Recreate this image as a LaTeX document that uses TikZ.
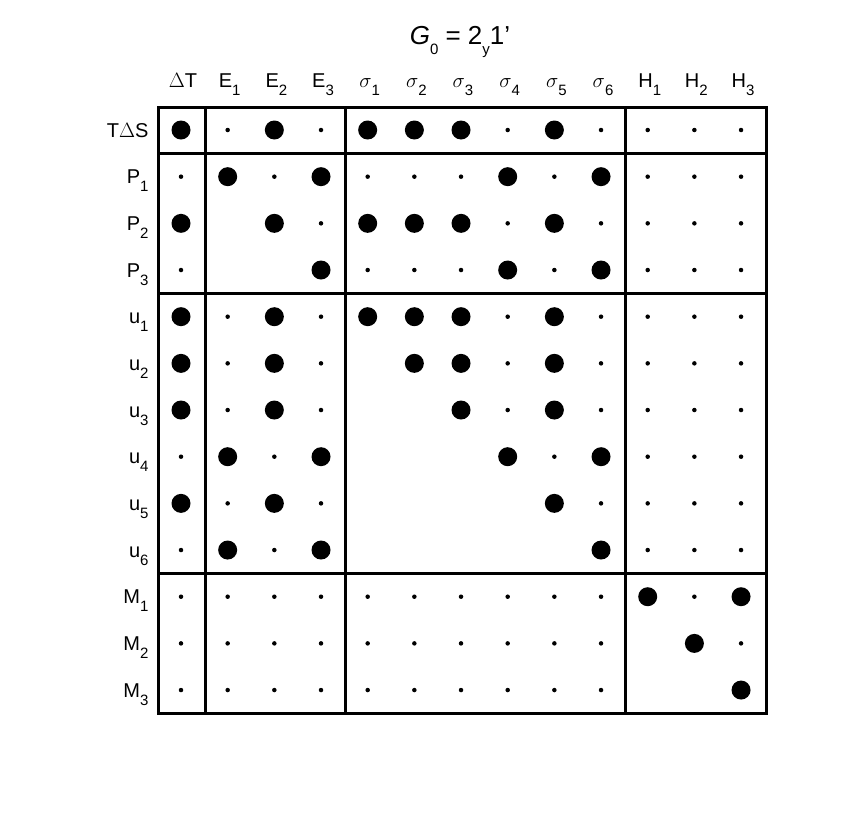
\documentclass[tikz,border=0pt]{standalone}
\usepackage{fontspec}
\setmainfont{Liberation Sans}
\newcommand{\lw}[1]{\raisebox{-0.4em}{\fontsize{15}{15}\selectfont #1}}
\begin{document}
\begin{tikzpicture}[x=1pt,y=-1pt,
  big/.style={circle,fill=black,inner sep=0pt,minimum size=19pt},
  small/.style={circle,fill=black,inner sep=0pt,minimum size=4.5pt},
  lab/.style={font=\fontsize{20}{22}\selectfont},
  frame/.style={line width=3pt}]
\useasboundingbox (0,0) rectangle (856,812);
\node[lab,font=\fontsize{26}{28}\selectfont] (title) at (460,42) {\textit{G}\lw{0} = 2\lw{y}1'};
% column labels
\foreach \lbl [count=\i] in {$\Delta$T, E\lw{1}, E\lw{2}, E\lw{3},
  $\sigma$\lw{1},$\sigma$\lw{2},$\sigma$\lw{3},$\sigma$\lw{4},$\sigma$\lw{5},$\sigma$\lw{6},
  H\lw{1}, H\lw{2}, H\lw{3}}
  \node[lab,anchor=base] (c\i) at ({183+(\i-1)*46.67},87) {\lbl};
% row labels
\foreach \lbl [count=\j] in {T$\Delta$S, P\lw{1}, P\lw{2}, P\lw{3},
  u\lw{1}, u\lw{2}, u\lw{3}, u\lw{4}, u\lw{5}, u\lw{6},
  M\lw{1}, M\lw{2}, M\lw{3}}
  \node[lab,anchor=base east] (r\j) at (152,{137+(\j-1)*46.67}) {\lbl};
% matrix
\foreach \row [count=\j] in {
 {2,1,2,1,2,2,2,1,2,1,1,1,1},
 {1,2,1,2,1,1,1,2,1,2,1,1,1},
 {2,0,2,1,2,2,2,1,2,1,1,1,1},
 {1,0,0,2,1,1,1,2,1,2,1,1,1},
 {2,1,2,1,2,2,2,1,2,1,1,1,1},
 {2,1,2,1,0,2,2,1,2,1,1,1,1},
 {2,1,2,1,0,0,2,1,2,1,1,1,1},
 {1,2,1,2,0,0,0,2,1,2,1,1,1},
 {2,1,2,1,0,0,0,0,2,1,1,1,1},
 {1,2,1,2,0,0,0,0,0,2,1,1,1},
 {1,1,1,1,1,1,1,1,1,1,2,1,2},
 {1,1,1,1,1,1,1,1,1,1,0,2,1},
 {1,1,1,1,1,1,1,1,1,1,0,0,2}}{
  \foreach \v [count=\i] in \row {
    \ifnum\v=2 \node[big] (d\j-\i) at ({181+(\i-1)*46.67},{130+(\j-1)*46.67}) {};\fi
    \ifnum\v=1 \node[small] (d\j-\i) at ({181+(\i-1)*46.67},{130+(\j-1)*46.67}) {};\fi
  }
}
% frames
\draw[frame] (158,107) rectangle (766,713);
\draw[frame] (205,107) -- (205,713);
\draw[frame] (345,107) -- (345,713);
\draw[frame] (625,107) -- (625,713);
\draw[frame] (158,153) -- (766,153);
\draw[frame] (158,293) -- (766,293);
\draw[frame] (158,573) -- (766,573);
\end{tikzpicture}
\end{document}
